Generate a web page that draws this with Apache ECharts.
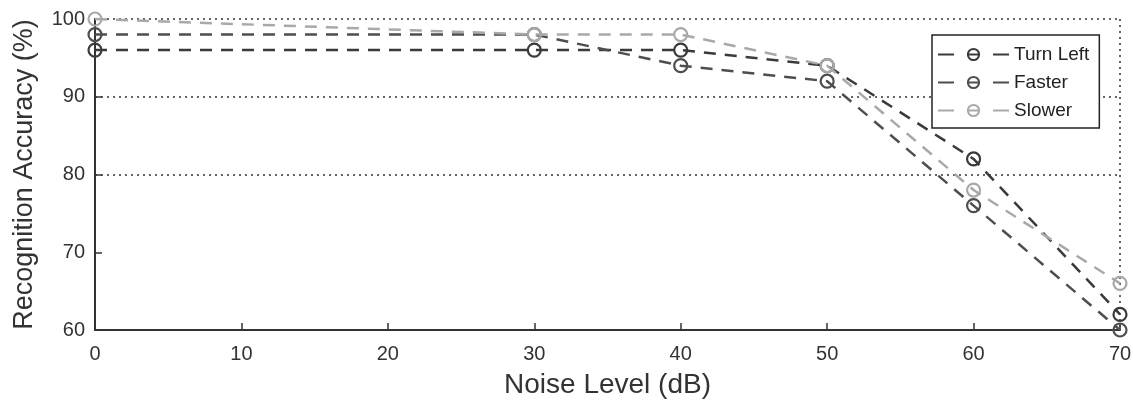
<!DOCTYPE html>
<html>
<head>
<meta charset="utf-8">
<script src="https://cdn.jsdelivr.net/npm/echarts@6/dist/echarts.min.js"></script>
<style>
  html, body { margin: 0; padding: 0; background: #fff; }
  #chart { width: 1133px; height: 403px; }
</style>
</head>
<body>
<div id="chart"></div>
<script>
// Noise levels (dB) at which recognition was measured
const noiseLevels = [0, 30, 40, 50, 60, 70];

// Recognition accuracy (%) per voice command
const turnLeft = [96, 96, 96, 94, 82, 62];
const faster   = [98, 98, 94, 92, 76, 60];
const slower   = [100, 98, 98, 94, 78, 66];

const seriesNames = ['Turn Left', 'Faster', 'Slower'];
const seriesData = [turnLeft, faster, slower];
const seriesColors = ['#3a3a3a', '#4e4e4e', '#a9a9a9'];

const FONT = '"Liberation Sans", Arial, sans-serif';
const clear = 'rgba(0,0,0,0)';

const chart = echarts.init(document.getElementById('chart'), null, { renderer: 'canvas' });

// Dashed lines with hollow (see-through) circle markers
const series = seriesNames.map((name, i) => ({
  name: name,
  type: 'line',
  data: noiseLevels.map((x, j) => [x, seriesData[i][j]]),
  symbol: 'circle',
  symbolSize: 13,
  showSymbol: true,
  clip: false,
  color: seriesColors[i],
  lineStyle: { color: seriesColors[i], width: 2.5, type: [12, 9] },
  itemStyle: { color: clear, borderColor: seriesColors[i], borderWidth: 2.2 },
  emphasis: { disabled: true },
  z: 3 + i
}));

chart.setOption({
  animation: false,
  backgroundColor: '#fff',
  grid: {
    left: 95, right: 13, top: 19, bottom: 73,
    containLabel: false,
    outerBoundsMode: 'none'
  },
  legend: {
    orient: 'vertical',
    left: 932,
    top: 35,
    itemWidth: 71,
    itemHeight: 14,
    itemGap: 9,
    padding: [10, 10, 8, 5],
    backgroundColor: '#fff',
    borderColor: '#222',
    borderWidth: 1.5,
    lineStyle: { type: [16, 13, 13, 13] },
    textStyle: { fontFamily: FONT, fontSize: 19, color: '#222' },
    data: seriesNames
  },
  xAxis: {
    type: 'value',
    min: 0, max: 70, interval: 10,
    name: 'Noise Level (dB)',
    nameLocation: 'middle',
    nameGap: 41,
    nameTextStyle: { fontFamily: FONT, fontSize: 28, color: '#333' },
    axisLine: { onZero: false, lineStyle: { color: '#333', width: 2 } },
    axisTick: { inside: true, length: 7, lineStyle: { color: '#333', width: 1.5 } },
    axisLabel: { fontFamily: FONT, fontSize: 20, color: '#333', margin: 14 },
    splitLine: {
      show: true,
      lineStyle: {
        color: [clear, clear, clear, clear, clear, clear, clear, '#333'],
        type: [2, 4], width: 1.5
      }
    }
  },
  yAxis: {
    type: 'value',
    min: 60, max: 100, interval: 10,
    name: 'Recognition Accuracy (%)',
    nameLocation: 'middle',
    nameGap: 57,
    nameTextStyle: { fontFamily: FONT, fontSize: 27, color: '#333' },
    axisLine: { show: true, onZero: false, lineStyle: { color: '#333', width: 2 } },
    axisTick: { show: true, inside: true, length: 7, lineStyle: { color: '#333', width: 1.5 } },
    axisLabel: { fontFamily: FONT, fontSize: 20, color: '#333', margin: 10 },
    splitLine: {
      show: true,
      lineStyle: {
        color: [clear, clear, '#333', '#333', '#333'],
        type: [2, 4], width: 1.5
      }
    }
  },
  series: series
});
</script>
</body>
</html>
